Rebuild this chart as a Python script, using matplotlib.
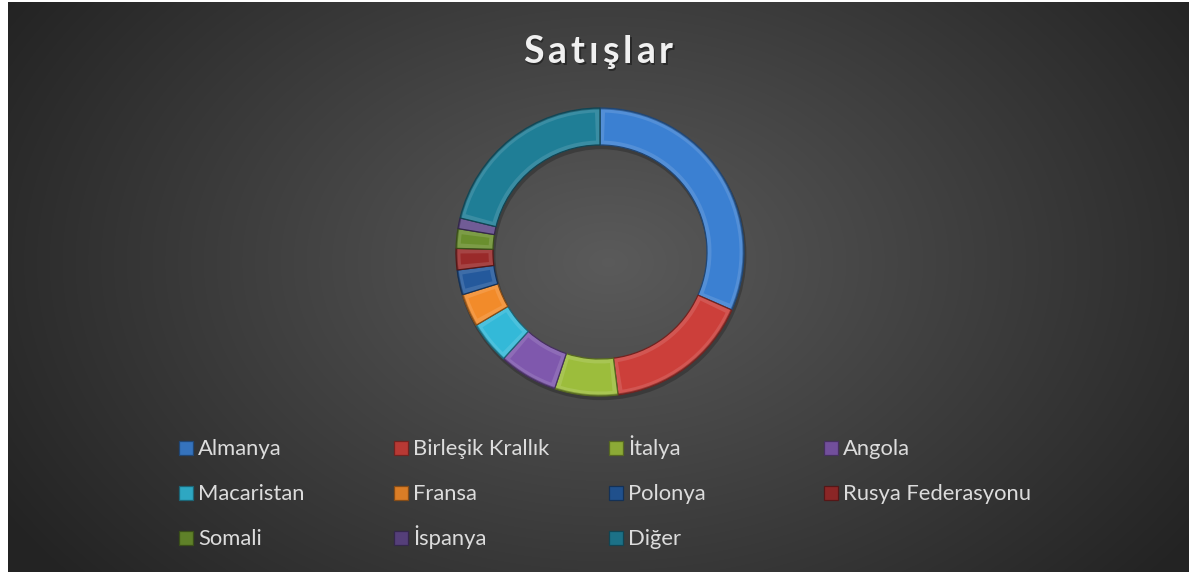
import numpy as np
import matplotlib.pyplot as plt
from matplotlib.patches import Wedge, Rectangle
from matplotlib.colors import to_rgb

countries = ["Almanya", "Birleşik Krallık", "İtalya", "Angola", "Macaristan", "Fransa",
             "Polonya", "Rusya Federasyonu", "Somali", "İspanya", "Diğer"]
shares = [31.6, 16.4, 7.1, 6.6, 4.8, 3.7, 2.8, 2.4, 2.2, 1.2, 21.2]
colors = ["#3b80d2", "#cc3f3a", "#9cbd3c", "#7f58ad", "#33b9d8", "#f28b2a",
          "#24599c", "#9a2a2a", "#6a8f2e", "#5e4688", "#1f7e96"]
title = "Satışlar"

W, H = 1189, 572
fig = plt.figure(figsize=(W / 100, H / 100), dpi=100, facecolor="white")

# dark background with a soft radial glow
bg = fig.add_axes([8 / W, 0, (W - 8) / W, (H - 2) / H])
yy, xx = np.mgrid[0:570, 0:1181]
d = np.sqrt(((xx - 600) / 720.0) ** 2 + ((yy - 260) / 500.0) ** 2)
shade = np.clip(0.355 - 0.22 * d, 0.14, 0.36)
bg.imshow(np.dstack([shade] * 3), aspect="auto", extent=[0, 1, 0, 1], origin="upper")
bg.axis("off")

# donut
cx, cy, box = 600, 252, 150
ax = fig.add_axes([(cx - box) / W, (H - cy - box) / H, 2 * box / W, 2 * box / H])
ax.set_aspect("equal")
ax.axis("off")

r_out, r_in = 144 / box, 107 / box
width = r_out - r_in

# soft shadow under ring
ax.add_patch(Wedge((0.008, -0.02), r_out + 0.008, 0, 360, width=width + 0.016,
                   facecolor="black", alpha=0.22, linewidth=0))

wedges, _ = ax.pie(shares, colors=colors, startangle=90, counterclock=False,
                   radius=r_out, wedgeprops=dict(width=width, linewidth=0))
ax.set_xlim(-1, 1)
ax.set_ylim(-1, 1)

inset = 0.03
rm = (r_out + r_in) / 2
for w, c in zip(wedges, colors):
    base = np.array(to_rgb(c))
    light = base + (1 - base) * 0.12
    dark = base * 0.55
    w.set_facecolor(light)
    w.set_edgecolor(dark)
    w.set_linewidth(0.9)
    dang = np.degrees(inset / rm)
    t1, t2 = w.theta1, w.theta2
    if t2 - t1 > 2 * dang + 0.5:
        ax.add_patch(Wedge((0, 0), r_out - inset, t1 + dang, t2 - dang,
                           width=width - 2 * inset, facecolor=base, linewidth=0))
    # darker outer rim
    ax.add_patch(Wedge((0, 0), r_out, t1, t2, width=0.01,
                       facecolor=dark, alpha=0.55, linewidth=0))

# title, letter-spaced like the original
renderer = fig.canvas.get_renderer()
spacing = 4.0
widths = []
for ch in title:
    t = fig.text(0, 0, ch, fontsize=27, fontweight="bold", family="Lato")
    widths.append(t.get_window_extent(renderer).width)
    t.remove()
total = sum(widths) + spacing * (len(title) - 1)
x = 598 - total / 2
for ch, wd in zip(title, widths):
    fig.text((x + 1.5) / W, 1 - 65 / H, ch, ha="left", va="baseline", fontsize=27,
             fontweight="bold", color="#111111", alpha=0.5, family="Lato")
    fig.text(x / W, 1 - 63 / H, ch, ha="left", va="baseline", fontsize=27,
             fontweight="bold", color="#f0f0f0", family="Lato")
    x += wd + spacing

# legend
col_x = [179, 394, 609, 824]
row_y = [448, 493, 538]
for i, (name, c) in enumerate(zip(countries, colors)):
    x = col_x[i % 4]
    y = row_y[i // 4]
    base = np.array(to_rgb(c))
    fig.patches.append(Rectangle((x / W, 1 - (y + 7) / H), 14 / W, 14 / H,
                                 facecolor=base * 0.9, edgecolor=base * 0.55, linewidth=0.9,
                                 transform=fig.transFigure))
    fig.text((x + 19) / W, 1 - (y + 7) / H, name, ha="left", va="baseline",
             fontsize=15.8, color="#dcdcdc", family="Lato")

fig.savefig("out.png", dpi=100, facecolor=fig.get_facecolor())
